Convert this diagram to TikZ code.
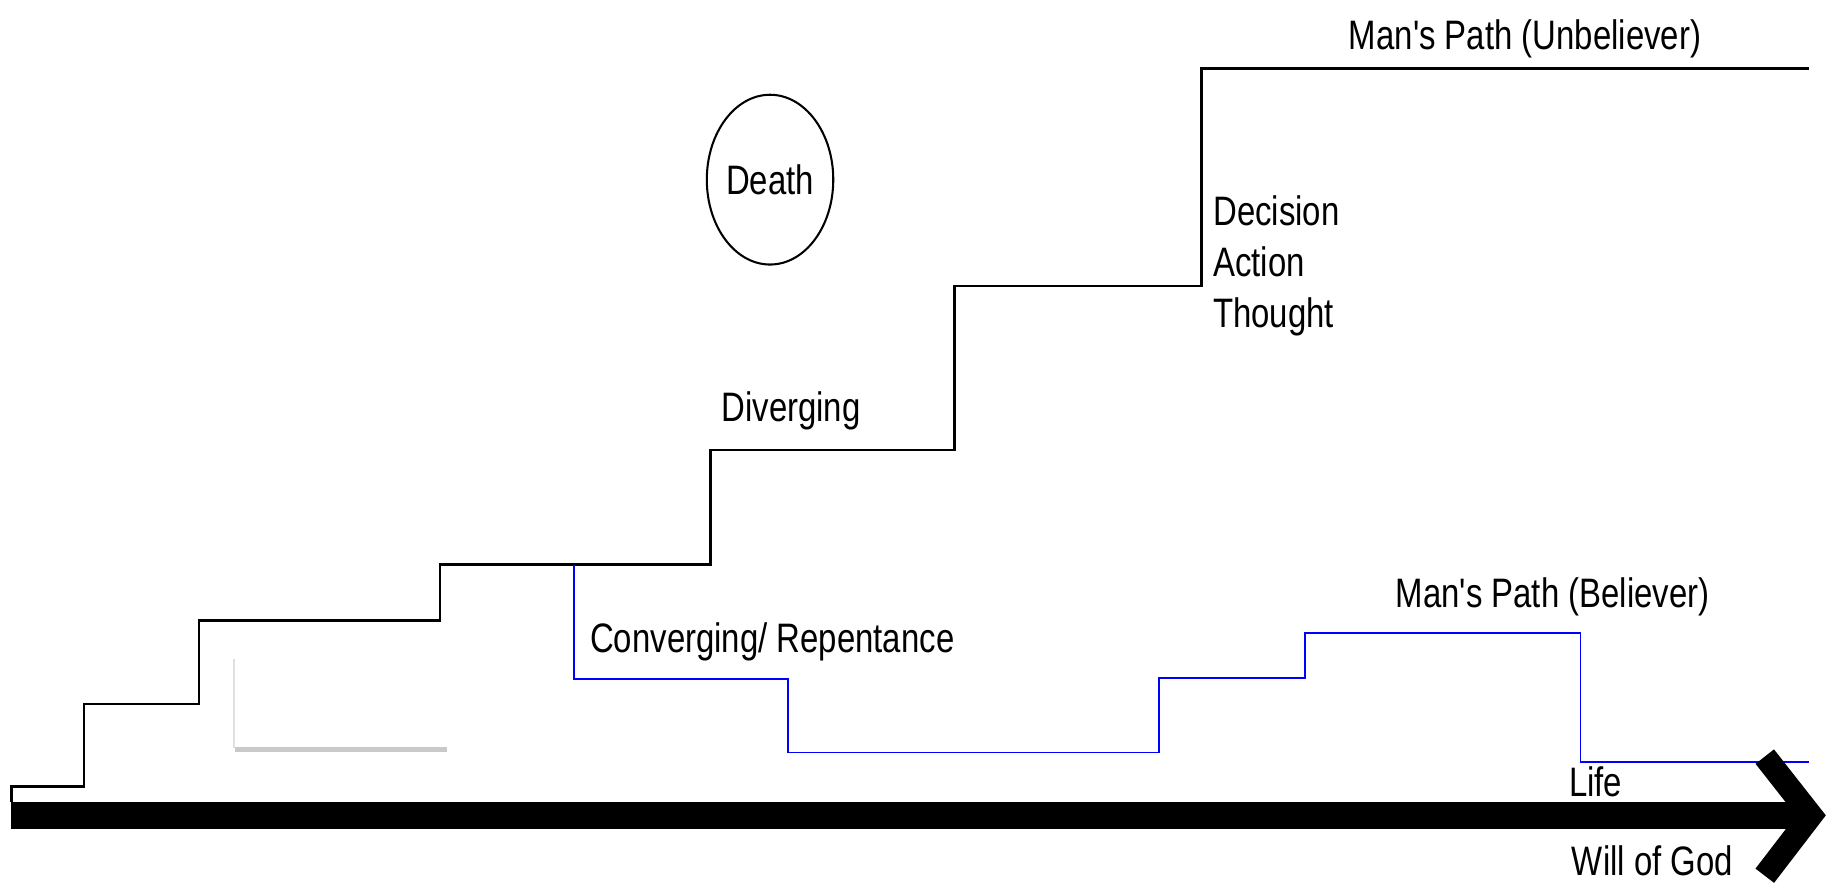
\documentclass[tikz,border=0pt]{standalone}
\usepackage{fontspec}
\newfontfamily\arialn{Liberation Sans}[FakeStretch=0.8]
\usetikzlibrary{shapes.geometric, shadows}

\begin{document}
\begin{tikzpicture}[
				x=0.01cm, y=-0.01cm,
				path/.style = {line width=0.65pt, line join=miter},
				blupath/.style = {draw=blue, line width=0.45pt}
			]
			\tikzstyle{Lbl} = [ %plain text labels
				font=\arialn\fontsize{10}{12.4}\selectfont,
				inner sep=0pt
			]
			\useasboundingbox (0,0) rectangle (1568,758.8);

			% blank box with a shadow
			\node (blank) [fill=white, minimum width=1.812cm, minimum height=0.745cm, inner sep=0pt,
				drop shadow={shadow xshift=0pt, shadow yshift=-1.1pt, fill=black!30, opacity=0.7}] at (291.4,601.2) {};
			\draw[black!12, line width=0.3pt] (blank.south west) -- (blank.north west);

			% man's path, unbeliever
			\draw[path] (10,685) -- (10,672.2) -- (71.8,672.2) -- (71.8,601.6) -- (170,601.6)
				-- (170,530.4) -- (376,530.4) -- (376,482.5) -- (607,482.5) -- (607,384.5)
				-- (815.5,384.5) -- (815.5,244.5) -- (1026.8,244.5) -- (1026.8,58.4) -- (1546,58.4);
			% man's path, believer
			\draw[blupath] (490.5,482.5) -- (490.5,580.5) -- (673.6,580.5) -- (673.6,643)
				-- (990,643) -- (990,579) -- (1115,579) -- (1115,541) -- (1350.5,541)
				-- (1350.5,651.4) -- (1546,651.4);

			% will of god
			\draw[line width=0.228cm] (9.4,696.6) -- (1538,696.6);
			\draw[line width=0.2cm, line join=miter, miter limit=4] (1508,646.5) -- (1547.5,696.8) -- (1508,748.3);

			\node (death) [ellipse, draw, line width=0.5pt, minimum width=1.08cm, minimum height=1.45cm,
				inner sep=0pt, Lbl] at (658,153.5) {Death};
			\node (unbel) [Lbl, anchor=base west] at (1152,42.7) {Man's Path (Unbeliever)};
			\node (decide) [Lbl, anchor=north west, align=left] at (1036,166.5) {Decision\\Action\\Thought};
			\node (diverge) [Lbl, anchor=base west] at (615.8,360.3) {Diverging};
			\node (converge) [Lbl, anchor=base west] at (503.6,557.7) {Converging/ Repentance};
			\node (believer) [Lbl, anchor=base west] at (1192,519.3) {Man's Path (Believer)};
			\node (life) [Lbl, anchor=base west] at (1340,680.7) {Life};
			\node (god) [Lbl, anchor=base west] at (1342.5,747.7) {Will of God};
		\end{tikzpicture}
\end{document}
